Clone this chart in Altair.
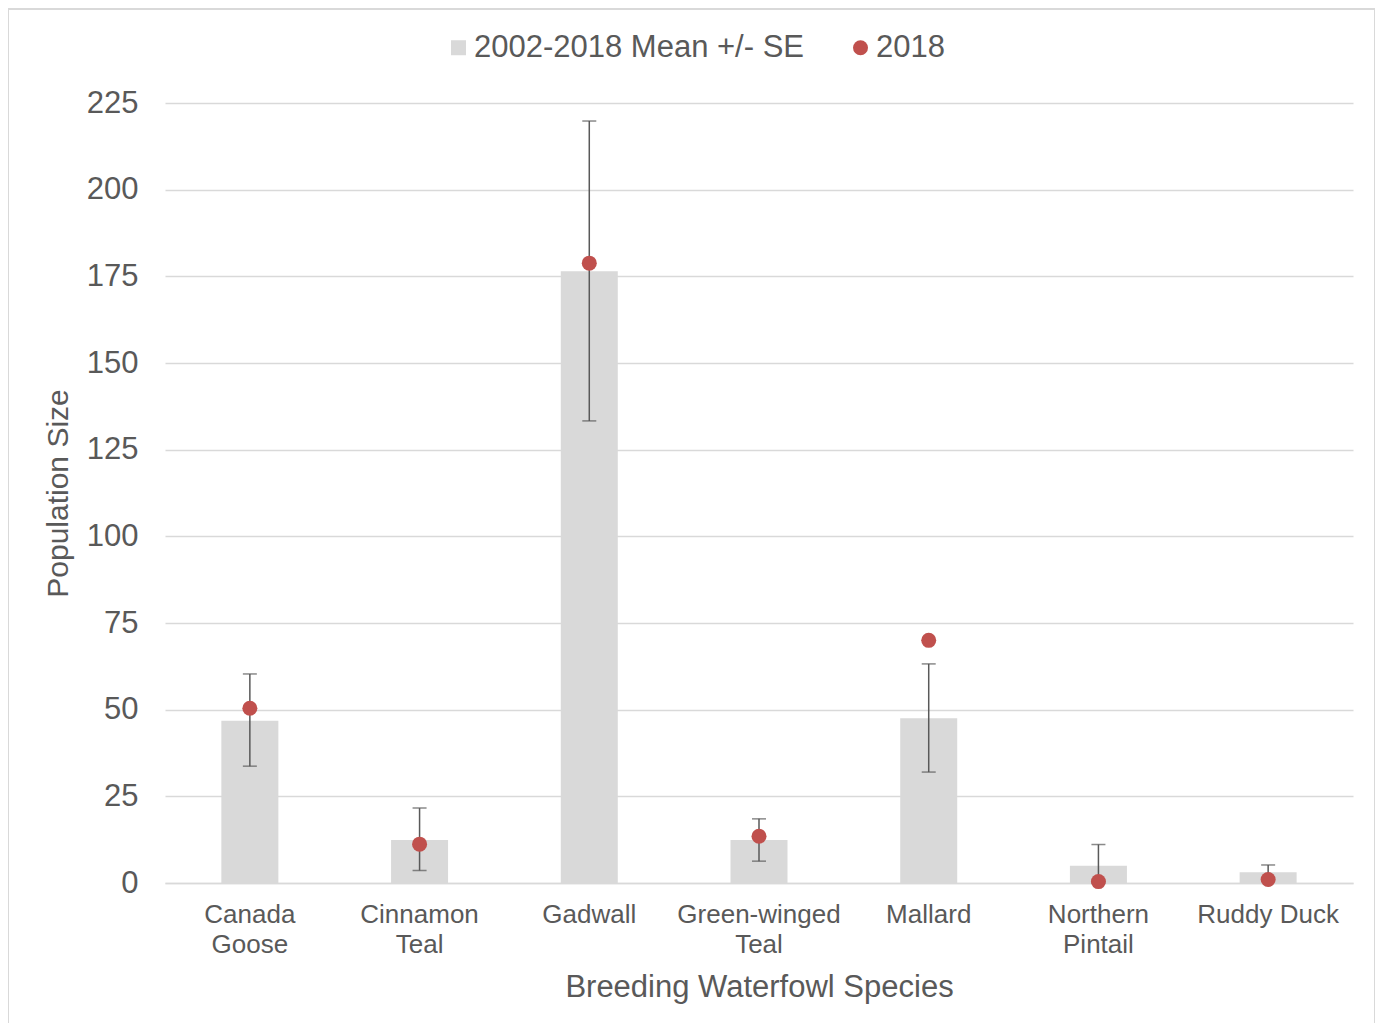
import altair as alt
import pandas as pd

species = ["Canada Goose", "Cinnamon Teal", "Gadwall", "Green-winged Teal",
           "Mallard", "Northern Pintail", "Ruddy Duck"]
mean_pop = [46.8, 12.4, 176.5, 12.4, 47.5, 5.0, 3.1]
se_low = [33.7, 3.6, 133.3, 6.3, 32.0, 0.0, 1.0]
se_high = [60.3, 21.6, 219.8, 18.5, 63.2, 11.1, 5.2]
pop_2018 = [50.4, 11.2, 178.8, 13.5, 70.0, 0.4, 1.0]
y_ticks = [0, 25, 50, 75, 100, 125, 150, 175, 200, 225]
series_names = ["2002-2018 Mean +/- SE", "2018"]

df = pd.DataFrame({
    "species": species,
    "mean": mean_pop,
    "lo": se_low,
    "hi": se_high,
    "y2018": pop_2018,
})

FONT = "Liberation Sans"
TXT = "#595959"
GRID = "#d9d9d9"

color_scale = alt.Scale(domain=series_names, range=["#d9d9d9", "#c0504d"])
shape_scale = alt.Scale(domain=series_names, range=["square", "circle"])

x_enc = alt.X(
    "species:N", sort=species, scale=alt.Scale(paddingInner=0, paddingOuter=0),
    axis=alt.Axis(
        title="Breeding Waterfowl Species",
        labelExpr="datum.label == 'Ruddy Duck' ? datum.label : split(datum.label, ' ')",
        labelAngle=0, labelFontSize=26, labelLineHeight=30, labelPadding=18,
        labelColor=TXT, labelFont=FONT,
        titleFontSize=31, titleFont=FONT, titleColor=TXT, titleFontWeight="normal",
        titleY=104, titleBaseline="middle",
        ticks=False, domainColor=GRID, domainWidth=1.5,
    ),
)

y_scale = alt.Scale(domain=[0, 225], nice=False)

legend = alt.Legend(
    title=None, orient="none", direction="horizontal", legendX=278, legendY=-71,
    labelFontSize=31, labelFont=FONT, labelColor=TXT, symbolSize=225,
    labelOffset=0, columnPadding=40, symbolStrokeWidth=0, labelLimit=1000,
)

bars = alt.Chart(df).transform_calculate(series="'2002-2018 Mean +/- SE'").mark_bar(size=57).encode(
    x=x_enc,
    y=alt.Y("mean:Q", scale=y_scale, axis=alt.Axis(
        title="Population Size", values=y_ticks, grid=True, gridColor=GRID, gridWidth=1.5,
        domain=False, ticks=False, labelFontSize=31, labelFont=FONT, labelColor=TXT,
        labelPadding=27, titleFontSize=30, titleFont=FONT, titleColor=TXT,
        titleFontWeight="normal", titleX=-107, titleY=390, titleAngle=270,
        titleAlign="center", titleBaseline="middle",
    )),
    color=alt.Color("series:N", scale=color_scale, legend=legend),
)

rules = alt.Chart(df).mark_rule(color="#595959", strokeWidth=1.5).encode(
    x=alt.X("species:N", sort=species),
    y=alt.Y("lo:Q", scale=y_scale),
    y2="hi:Q",
)

cap_hi = alt.Chart(df).mark_tick(color="#595959", size=14, thickness=1.5).encode(
    x=alt.X("species:N", sort=species),
    y=alt.Y("hi:Q", scale=y_scale),
)
cap_lo = alt.Chart(df).mark_tick(color="#595959", size=14, thickness=1.5).encode(
    x=alt.X("species:N", sort=species),
    y=alt.Y("lo:Q", scale=y_scale),
)

points = alt.Chart(df).transform_calculate(series="'2018'").mark_point(
    filled=True, size=225, opacity=1).encode(
    x=alt.X("species:N", sort=species),
    y=alt.Y("y2018:Q", scale=y_scale),
    color=alt.Color("series:N", scale=color_scale, legend=legend),
    shape=alt.Shape("series:N", scale=shape_scale, legend=legend),
)

border = alt.Chart(pd.DataFrame({"b": [1]})).mark_rect(
    filled=False, stroke="#d9d9d9", strokeWidth=2).encode(
    x=alt.value(-157), x2=alt.value(1210), y=alt.value(-94), y2=alt.value(960),
)

chart = alt.layer(border, bars, rules, cap_hi, cap_lo, points).properties(
    width=1188, height=780,
    autosize=alt.AutoSizeParams(type="none"),
    padding={"left": 157, "top": 95, "right": 22, "bottom": 140},
).configure(background="white").configure_view(strokeWidth=0)

chart.save("out.html", embed_options={"renderer": "svg", "actions": False})
